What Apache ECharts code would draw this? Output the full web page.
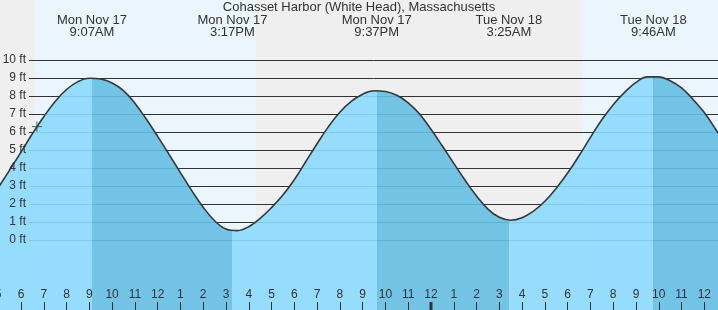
<!DOCTYPE html>
<html>
<head>
<meta charset="utf-8">
<script src="https://cdn.jsdelivr.net/npm/echarts@6/dist/echarts.min.js"></script>
<style>
  html, body { margin: 0; padding: 0; background: #efefef; }
  #chartContainer { width: 718px; height: 310px; }
</style>
</head>
<body>
<div id="chartContainer"></div>
<script>
// 标题
const chartTitle = "Cohasset Harbor (White Head), Massachusetts";

// 潮位曲线, 每半小时一个点 (读自图片)
const tideTimes = [
  "2025-11-17 05:00", "2025-11-17 05:30", "2025-11-17 06:00", "2025-11-17 06:30",
  "2025-11-17 07:00", "2025-11-17 07:30", "2025-11-17 08:00", "2025-11-17 08:30",
  "2025-11-17 09:00", "2025-11-17 09:30", "2025-11-17 10:00", "2025-11-17 10:30",
  "2025-11-17 11:00", "2025-11-17 11:30", "2025-11-17 12:00", "2025-11-17 12:30",
  "2025-11-17 13:00", "2025-11-17 13:30", "2025-11-17 14:00", "2025-11-17 14:30",
  "2025-11-17 15:00", "2025-11-17 15:30", "2025-11-17 16:00", "2025-11-17 16:30",
  "2025-11-17 17:00", "2025-11-17 17:30", "2025-11-17 18:00", "2025-11-17 18:30",
  "2025-11-17 19:00", "2025-11-17 19:30", "2025-11-17 20:00", "2025-11-17 20:30",
  "2025-11-17 21:00", "2025-11-17 21:30", "2025-11-17 22:00", "2025-11-17 22:30",
  "2025-11-17 23:00", "2025-11-17 23:30", "2025-11-18 00:00", "2025-11-18 00:30",
  "2025-11-18 01:00", "2025-11-18 01:30", "2025-11-18 02:00", "2025-11-18 02:30",
  "2025-11-18 03:00", "2025-11-18 03:30", "2025-11-18 04:00", "2025-11-18 04:30",
  "2025-11-18 05:00", "2025-11-18 05:30", "2025-11-18 06:00", "2025-11-18 06:30",
  "2025-11-18 07:00", "2025-11-18 07:30", "2025-11-18 08:00", "2025-11-18 08:30",
  "2025-11-18 09:00", "2025-11-18 09:30", "2025-11-18 10:00", "2025-11-18 10:30",
  "2025-11-18 11:00", "2025-11-18 11:30", "2025-11-18 12:00", "2025-11-18 12:30",
  "2025-11-18 13:00"
];
const tideHeights = [
  2.9, 3.88, 4.88, 5.9,
  6.85, 7.7, 8.36, 8.8,
  8.99, 8.94, 8.72, 8.3,
  7.6, 6.72, 5.76, 4.76,
  3.74, 2.74, 1.82, 1.07,
  0.61, 0.52, 0.74, 1.2,
  1.8, 2.5, 3.35, 4.35,
  5.35, 6.3, 7.1, 7.7,
  8.1, 8.29, 8.25, 8.04,
  7.62, 7.0, 6.15, 5.22,
  4.26, 3.32, 2.44, 1.72,
  1.26, 1.1, 1.24, 1.6,
  2.15, 2.88, 3.72, 4.68,
  5.7, 6.68, 7.52, 8.2,
  8.76, 9.06, 9.06, 8.85,
  8.45, 7.82, 7.08, 6.15,
  5.15
];

// 高低潮
const extremeTimes = ["2025-11-17 09:07", "2025-11-17 15:17", "2025-11-17 21:37", "2025-11-18 03:25", "2025-11-18 09:46"];
const extremeHeights = [9.0, 0.5, 8.3, 1.1, 9.1];
const extremeTypes = ["H", "L", "H", "L", "H"];

// 日出日落
const sunRise = ["2025-11-17 06:37", "2025-11-18 06:38"];
const sunSet = ["2025-11-17 16:19", "2025-11-18 16:18"];

// 当前时间标记
const nowTime = "2025-11-17 06:42";
const nowHeight = 6.3;

const midnightTimes = ["2025-11-18 00:00"];
const xStart = "2025-11-17 05:00";
const xEnd = "2025-11-18 12:40";
const yLabelMin = 0;
const yLabelMax = 10;

// 时间 -> 小时数 (从11月17日0点算起)
const baseDate = new Date("2025-11-17T00:00:00");
function toHours(s) {
  return (new Date(s.replace(" ", "T") + ":00") - baseDate) / 3600000;
}

const dayNames = ["Sun", "Mon", "Tue", "Wed", "Thu", "Fri", "Sat"];
const monthNames = ["Jan", "Feb", "Mar", "Apr", "May", "Jun", "Jul", "Aug", "Sep", "Oct", "Nov", "Dec"];
function fmtExtreme(s) {
  const d = new Date(s.replace(" ", "T") + ":00");
  const h = d.getHours();
  const m = d.getMinutes();
  const line1 = dayNames[d.getDay()] + " " + monthNames[d.getMonth()] + " " + d.getDate();
  const line2 = (h % 12 || 12) + ":" + String(m).padStart(2, "0") + (h < 12 ? "AM" : "PM");
  return line1 + "\n" + line2;
}

const FONT = "Liberation Sans";
const TEXT = "#333";
const LIGHT_FILL = "#8cdafe";
const DARK_FILL = "#65bee4";

const tideData = tideTimes.map((t, i) => [toHours(t), tideHeights[i]]);
const xMin = toHours(xStart);
const xMax = toHours(xEnd);

// 涨潮浅色, 落潮深色
const extH = extremeTimes.map(toHours);
const pieces = [{ lt: extH[0], color: extremeTypes[0] === "H" ? LIGHT_FILL : DARK_FILL }];
for (let i = 0; i < extH.length - 1; i++) {
  pieces.push({ gte: extH[i], lt: extH[i + 1], color: extremeTypes[i] === "H" ? DARK_FILL : LIGHT_FILL });
}
const lastType = extremeTypes[extremeTypes.length - 1];
pieces.push({ gte: extH[extH.length - 1], color: lastType === "H" ? DARK_FILL : LIGHT_FILL });

const myChart = echarts.init(document.getElementById("chartContainer"));

const yLabelStyle = {
  margin: 3,
  fontFamily: FONT,
  fontSize: 12,
  color: TEXT,
  formatter: "{value} ft"
};

const option = {
  animation: false,
  backgroundColor: "#efefef",
  title: {
    text: chartTitle,
    left: "center",
    top: 0,
    padding: 0,
    textStyle: { fontFamily: FONT, fontSize: 13, fontWeight: "normal", color: TEXT, lineHeight: 15 }
  },
  grid: [
    { left: -1.8, right: -1.5, top: 0, bottom: 0, outerBoundsMode: "none" },
    { left: 29, right: 0, top: 60, bottom: 70, outerBoundsMode: "none" }
  ],
  xAxis: [
    {
      type: "value",
      gridIndex: 0,
      position: "bottom",
      min: xMin,
      max: xMax,
      interval: 1,
      z: 6,
      axisLine: { show: false, onZero: false },
      splitLine: { show: false },
      axisTick: { inside: true, length: 8, lineStyle: { color: TEXT, width: 1 } },
      axisLabel: {
        inside: true,
        margin: 9,
        showMaxLabel: false,
        fontFamily: FONT,
        fontSize: 12,
        color: TEXT,
        formatter: function (v) {
          const h = ((Math.round(v) % 24) + 24) % 24;
          return String(h % 12 || 12);
        }
      }
    },
    { type: "value", gridIndex: 1, min: 0, max: 1, show: false }
  ],
  yAxis: [
    { type: "value", gridIndex: 0, min: -70 / 18, max: 240 / 18, show: false },
    {
      // 网格线
      type: "value",
      gridIndex: 1,
      position: "left",
      min: yLabelMin,
      max: yLabelMax,
      interval: 1,
      z: 1,
      axisLine: { show: false },
      axisTick: { show: false },
      axisLabel: { show: false },
      splitLine: { lineStyle: { color: "#333", width: 1 } }
    },
    {
      // 刻度文字
      type: "value",
      gridIndex: 1,
      position: "left",
      offset: 0,
      min: yLabelMin,
      max: yLabelMax,
      interval: 1,
      z: 6,
      axisLine: { show: false },
      axisTick: { show: false },
      splitLine: { show: false },
      axisLabel: yLabelStyle
    }
  ],
  visualMap: {
    type: "piecewise",
    show: false,
    dimension: 0,
    seriesIndex: 1,
    pieces: pieces
  },
  series: [
    {
      // 白天背景
      type: "custom",
      z: -1,
      silent: true,
      xAxisIndex: 0,
      yAxisIndex: 0,
      data: sunRise.map((t, i) => [toHours(t), toHours(sunSet[i])]),
      renderItem: function (params, api) {
        const cs = params.coordSys;
        const x1 = api.coord([api.value(0), 0])[0];
        const x2 = api.coord([api.value(1), 0])[0];
        const rect = echarts.graphic.clipRectByRect(
          { x: x1, y: cs.y, width: x2 - x1, height: cs.height },
          { x: cs.x, y: cs.y, width: cs.width, height: cs.height }
        );
        return rect && { type: "rect", shape: rect, style: { fill: "#eaf5fe" } };
      }
    },
    {
      // 潮位填充
      type: "line",
      xAxisIndex: 0,
      yAxisIndex: 0,
      data: tideData,
      smooth: 0.4,
      showSymbol: false,
      silent: true,
      lineStyle: { width: 0 },
      areaStyle: { opacity: 0.9, origin: "start" }
    },
    {
      // 潮位曲线
      type: "line",
      z: 3,
      xAxisIndex: 0,
      yAxisIndex: 0,
      data: tideData,
      smooth: 0.4,
      showSymbol: false,
      silent: true,
      lineStyle: { color: "#383838", width: 1.6 }
    },
    {
      // 高低潮标签
      type: "custom",
      z: 4,
      silent: true,
      xAxisIndex: 0,
      yAxisIndex: 0,
      data: extremeTimes.map((t, i) => [toHours(t), extremeHeights[i]]),
      renderItem: function (params, api) {
        const x = api.coord([api.value(0), 0])[0];
        return {
          type: "text",
          style: {
            text: fmtExtreme(extremeTimes[params.dataIndex]),
            x: x,
            y: 26,
            align: "center",
            verticalAlign: "middle",
            fontFamily: FONT,
            fontSize: 13,
            lineHeight: 12,
            fill: TEXT
          }
        };
      }
    },
    {
      // 当前时间
      type: "scatter",
      z: 5,
      silent: true,
      xAxisIndex: 0,
      yAxisIndex: 0,
      data: [[toHours(nowTime), nowHeight]],
      symbol: "path://M0,5L10,5M5,0L5,10",
      symbolSize: 10,
      itemStyle: { color: "none", borderColor: "#333", borderWidth: 1 }
    },
    {
      // 午夜刻度
      type: "custom",
      z: 5,
      silent: true,
      xAxisIndex: 0,
      yAxisIndex: 0,
      data: midnightTimes.map((t) => [toHours(t), 0]),
      renderItem: function (params, api) {
        const cs = params.coordSys;
        const x = api.coord([api.value(0), 0])[0];
        return {
          type: "rect",
          shape: { x: Math.round(x) - 1.5, y: cs.y + cs.height - 8, width: 3, height: 8 },
          style: { fill: "#333" }
        };
      }
    }
  ]
};

myChart.setOption(option);
</script>
</body>
</html>
